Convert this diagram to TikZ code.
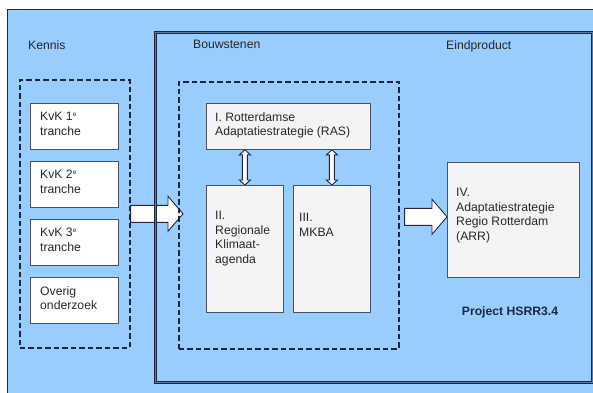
\documentclass[tikz,border=0pt]{standalone}
\usepackage{fontspec}
\setmainfont{Liberation Sans}
\usetikzlibrary{calc}
\usetikzlibrary{positioning}

\definecolor{lichtblauw}{RGB}{153,204,255}
\definecolor{donkerblauw}{RGB}{30,38,66}
\definecolor{tekstgrijs}{RGB}{40,40,40}
\definecolor{vakgrijs}{RGB}{244,244,244}

\pgfdeclarelayer{achter}
\pgfdeclarelayer{midden}
\pgfsetlayers{achter,midden,main}

\tikzset{
	tekst/.style={inner sep=0pt, anchor=north west, align=left, text=tekstgrijs, font=\fontsize{12.2}{14.6}\selectfont},
	projectnaam/.style={inner sep=0pt, text=donkerblauw, font=\fontsize{12.2}{14.6}\selectfont\bfseries},
	kvkvak/.style={draw=donkerblauw!80, line width=0.8pt, fill=white, anchor=north west, inner sep=0pt, minimum width=88pt, minimum height=46pt},
	bouwvak/.style={draw=donkerblauw!80, line width=0.8pt, fill=vakgrijs, anchor=north west, inner sep=0pt},
	stippelkader/.style={draw=donkerblauw, line width=1.6pt, dash pattern=on 5.5pt off 3pt, anchor=north west, inner sep=0pt},
	projectkader/.style={draw=donkerblauw, line width=1pt, double=lichtblauw!50!donkerblauw, double distance=1.2pt, anchor=north west, inner sep=0pt},
	pijlvorm/.style={draw=donkerblauw, line width=0.9pt, fill=white, line join=miter}
}

% kleine e boven de regel
\newcommand{\kvke}{\textsuperscript{\fontsize{6.5}{6.5}\selectfont e}}
% brede pijl naar rechts
\newcommand{\blokpijl}[2]{%
	\draw[pijlvorm] let \p1=(#1), \p2=(#2) in
	(\x1,\y1+8.5pt) -- (\x2-15pt,\y1+8.5pt) -- (\x2-15pt,\y1+17.5pt) -- (\x2,\y1)
	-- (\x2-15pt,\y1-17.5pt) -- (\x2-15pt,\y1-8.5pt) -- (\x1,\y1-8.5pt) -- cycle;}
% smalle pijl omhoog en omlaag
\newcommand{\dubbelpijl}[2]{%
	\draw[pijlvorm] let \p1=(#1), \p2=(#2) in
	(\x1-2.5pt,\y1-5pt) -- (\x1-5.5pt,\y1-5pt) -- (\x1,\y1) -- (\x1+5.5pt,\y1-5pt) -- (\x1+2.5pt,\y1-5pt)
	-- (\x1+2.5pt,\y2+5pt) -- (\x1+5.5pt,\y2+5pt) -- (\x1,\y2) -- (\x1-5.5pt,\y2+5pt) -- (\x1-2.5pt,\y2+5pt) -- cycle;}

\begin{document}
\begin{tikzpicture}[x=1pt,y=-1pt]
	\useasboundingbox (0,0) rectangle (593,392);
	\clip (0,0) rectangle (593,392);
	%achtergrond
	\begin{pgfonlayer}{achter}
		\fill[white] (0,0) rectangle (593,392);
		\filldraw[fill=lichtblauw, draw=donkerblauw, line width=0.8pt] (7,9) rectangle (610,410);
	\end{pgfonlayer}
	
	%kennis
	\node[tekst] (kennislabel) at (28,40) {Kennis};
	\node[stippelkader, minimum width=110pt, minimum height=268pt] (kennis) at (19,79) {};
	\node[kvkvak] (kvk1) at (30,103) {};
	\node[kvkvak] (kvk2) at (30,161) {};
	\node[kvkvak] (kvk3) at (30,219) {};
	\node[kvkvak] (overig) at (30,277) {};
	\node[tekst, below right=9pt and 10pt of kvk1.north west] (kvk1tekst) {KvK 1\kvke\\tranche};
	\node[tekst, below right=9pt and 10pt of kvk2.north west] (kvk2tekst) {KvK 2\kvke\\tranche};
	\node[tekst, below right=9pt and 10pt of kvk3.north west] (kvk3tekst) {KvK 3\kvke\\tranche};
	\node[tekst, below right=9pt and 10pt of overig.north west] (overigtekst) {Overig\\onderzoek};
	
	%bouwstenen
	\node[projectkader, minimum width=437pt, minimum height=350pt] (project) at (155,32) {};
	\node[tekst] (bouwlabel) at (193,40) {Bouwstenen};
	\node[stippelkader, minimum width=220pt, minimum height=267pt] (bouw) at (178,81) {};
	\node[bouwvak, minimum width=164pt, minimum height=46pt] (ras) at (206,103) {};
	\node[bouwvak, minimum width=77pt, minimum height=127pt] (klimaat) at (206,185) {};
	\node[bouwvak, minimum width=77pt, minimum height=127pt] (mkba) at (293,185) {};
	\node[tekst, below right=9pt and 9pt of ras.north west] (rastekst) {I. Rotterdamse\\Adaptatiestrategie (RAS)};
	\node[tekst, below right=26pt and 9pt of klimaat.north west] (klimaattekst) {II.\\Regionale\\Klimaat-\\agenda};
	\node[tekst, below right=28pt and 6pt of mkba.north west] (mkbatekst) {III.\\MKBA};
	
	%eindproduct
	\node[tekst] (eindlabel) at (446,40) {Eindproduct};
	\node[bouwvak, minimum width=132pt, minimum height=115pt] (arr) at (447,162) {};
	\node[tekst, below right=26pt and 9pt of arr.north west] (arrtekst) {IV.\\Adaptatiestrategie\\Regio Rotterdam\\(ARR)};
	\node[projectnaam] (projectlabel) at (510,312) {Project HSRR3.4};
	
	%pijlen
	\begin{pgfonlayer}{midden}
		\blokpijl{kennis.east}{$(bouw.west)+(5pt,0)$}
		\blokpijl{$(bouw.east)+(5pt,-1.5pt)$}{arr.west}
		\dubbelpijl{ras.south -| klimaat.north}{klimaat.north}
		\dubbelpijl{ras.south -| mkba.north}{mkba.north}
	\end{pgfonlayer}
\end{tikzpicture}
\end{document}
